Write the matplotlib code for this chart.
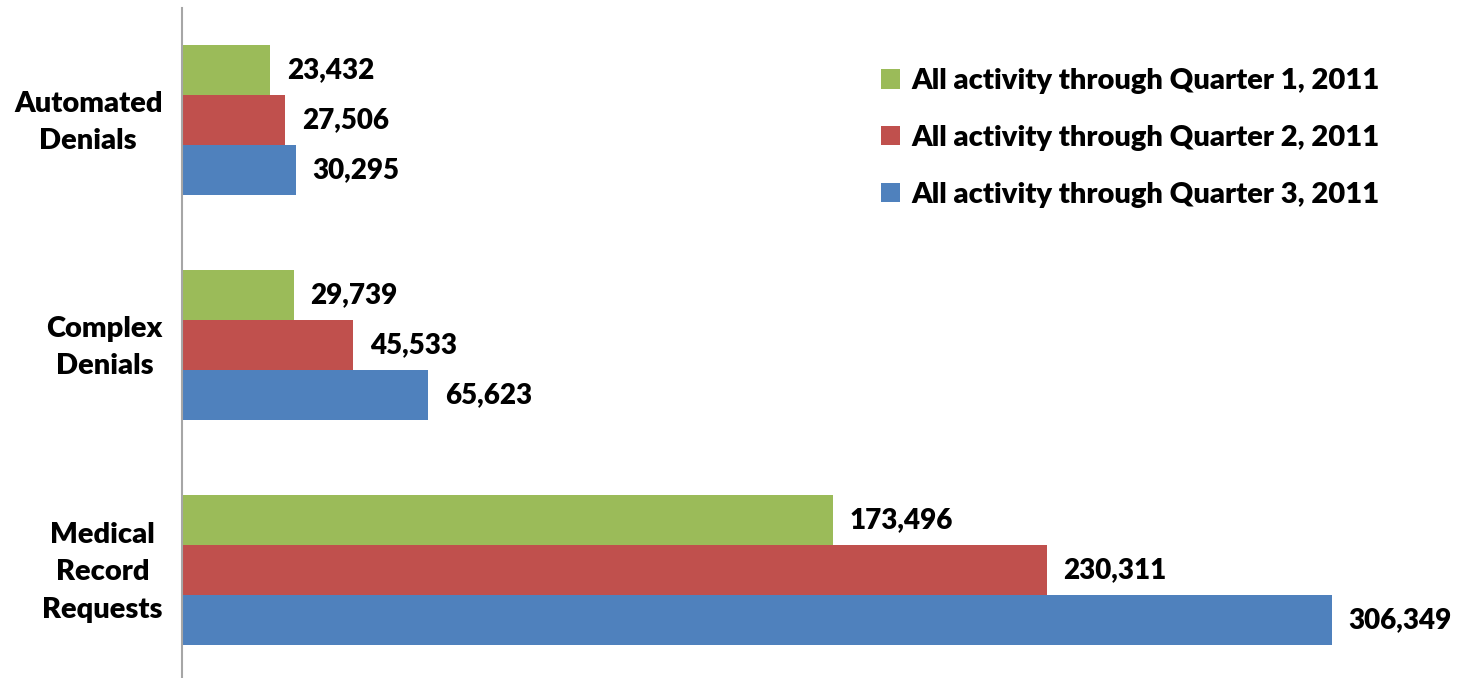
import numpy as np
import matplotlib.pyplot as plt
import matplotlib.transforms as mtransforms
from matplotlib.patches import Patch

# Data
categories = ["Automated\nDenials", "Complex\nDenials", "Medical\nRecord\nRequests"]
series_names = [
    "All activity through Quarter 1, 2011",
    "All activity through Quarter 2, 2011",
    "All activity through Quarter 3, 2011",
]
q1 = [23432, 29739, 173496]
q2 = [27506, 45533, 230311]
q3 = [30295, 65623, 306349]
colors = ["#9BBB59", "#C0504D", "#4F81BD"]

plt.rcParams["font.family"] = ["Lato", "DejaVu Sans"]
W = "heavy"

fig = plt.figure(figsize=(14.64, 6.78), dpi=100)
ax = fig.add_axes([182 / 1464, -4.5 / 678, 1 - 182 / 1464, 675 / 678])

y = np.arange(len(categories))
h = 50 / 225
for k, (vals, c) in enumerate(zip([q1, q2, q3], colors)):
    pos = y + (k - 1) * h
    ax.barh(pos, vals, height=h, color=c, edgecolor="none")
    for p, v in zip(pos, vals):
        ax.annotate(f"{v:,}", (v, p), xytext=(12, 0), textcoords="offset points",
                    ha="left", va="center", fontsize=20, fontweight=W)

ax.set_ylim(2.5, -0.5)
ax.set_xlim(0, 341500)
ax.set_yticks(y)
ax.set_yticklabels(categories, fontsize=21, fontweight=W, multialignment="center",
                   linespacing=1.55)
ax.tick_params(axis="y", length=0, pad=14)
# nudge category labels up a little
shift = mtransforms.ScaledTranslation(0, 6 / 100, fig.dpi_scale_trans)
for lbl in ax.get_yticklabels():
    lbl.set_transform(lbl.get_transform() + shift)
ax.set_xticks([])
for s in ["top", "right", "bottom"]:
    ax.spines[s].set_visible(False)
ax.spines["left"].set_color("#A6A6A6")
ax.spines["left"].set_linewidth(1.5)

handles = [Patch(facecolor=c, edgecolor="none") for c in colors]
fig.legend(handles, series_names, loc="upper left", bbox_to_anchor=(855 / 1464, 1 - 42 / 678),
           frameon=False, handlelength=0.65, handleheight=0.65,
           handletextpad=0.4, labelspacing=1.05, prop={"weight": W, "size": 21})

fig.savefig("out.png", dpi=100)
